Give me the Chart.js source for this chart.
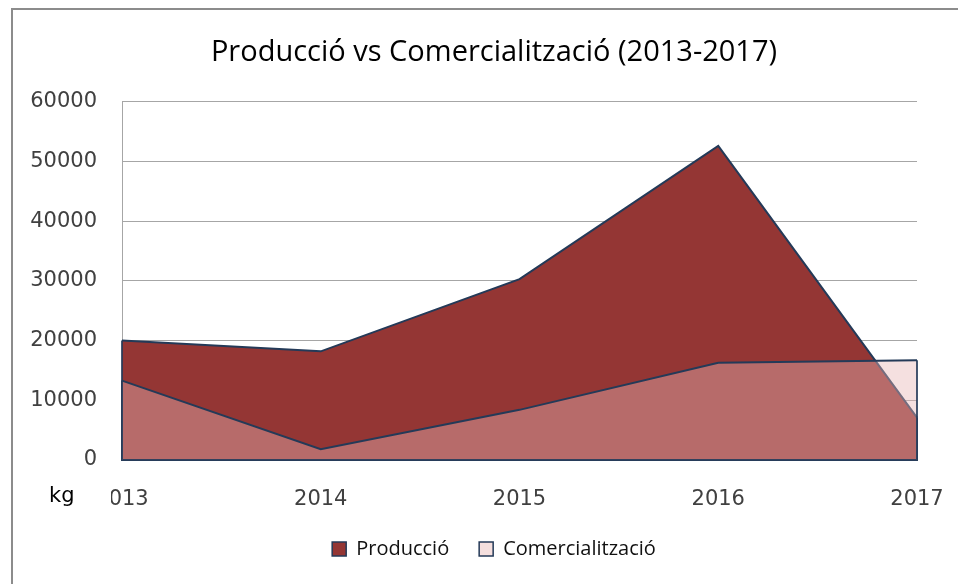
<!DOCTYPE html>
<html>
<head>
<meta charset="utf-8">
<script src="https://cdn.jsdelivr.net/npm/chart.js@4/dist/chart.umd.min.js"></script>
<style>
  html, body { margin: 0; padding: 0; background: #fff; overflow: hidden; }
  body { width: 958px; height: 584px; position: relative; }
  .frame { position: absolute; left: 11px; top: 8px; width: 1000px; height: 620px; border: 2px solid #8c8c8c; }
  .wrap { position: absolute; left: 0; top: 0; width: 958px; height: 584px; }
</style>
</head>
<body>
<div class="frame"></div>
<div class="wrap"><canvas id="chart" width="958" height="584"></canvas></div>
<script>
// Data
const years = ['2013', '2014', '2015', '2016', '2017'];
const produccio = [20000, 18200, 30300, 52600, 7100];
const comercialitzacio = [13300, 1800, 8400, 16300, 16700];
const yTicks = [0, 10000, 20000, 30000, 40000, 50000, 60000];

const navy = '#243a58';
const tickFont = '21px "DejaVu Sans"';

// y labels are mirrored so they are not clipped to the narrow axis box;
// shift them back out by the widest label
const meas = document.createElement('canvas').getContext('2d');
meas.font = tickFont;
const widest = Math.max(...yTicks.map(v => meas.measureText(String(v)).width));

// closes each area with the side and bottom edges, like the original
const areaOutline = {
  id: 'areaOutline',
  afterDatasetDraw(chart, args) {
    const pts = args.meta.data;
    if (!pts.length) return;
    const ctx = chart.ctx;
    const base = chart.scales.y.getPixelForValue(0);
    const first = pts[0], last = pts[pts.length - 1];
    ctx.save();
    ctx.strokeStyle = navy;
    ctx.globalAlpha = 0.85;
    ctx.lineWidth = 2;
    ctx.beginPath();
    ctx.moveTo(first.x, first.y);
    ctx.lineTo(first.x, base);
    ctx.lineTo(last.x, base);
    ctx.lineTo(last.x, last.y);
    ctx.stroke();
    ctx.restore();
  }
};

// "kg" unit label sitting over the first year label
const unitLabel = {
  id: 'unitLabel',
  afterDraw(chart) {
    const ctx = chart.ctx;
    ctx.save();
    ctx.fillStyle = '#fff';
    ctx.fillRect(14, 478, 97, 38);
    ctx.fillStyle = '#000';
    ctx.font = tickFont;
    ctx.textAlign = 'left';
    ctx.textBaseline = 'middle';
    ctx.fillText('kg', 49, 497);
    ctx.restore();
  }
};

const ctx = document.getElementById('chart').getContext('2d');
const chart = new Chart(ctx, {
  type: 'line',
  data: {
    labels: years,
    datasets: [
      {
        label: 'Producció',
        data: produccio,
        fill: 'origin',
        backgroundColor: '#943634',
        borderColor: navy,
        borderWidth: 2,
        pointRadius: 0,
        tension: 0,
        order: 2
      },
      {
        label: 'Comercialització',
        data: comercialitzacio,
        fill: 'origin',
        backgroundColor: 'rgba(230, 182, 181, 0.42)',
        borderColor: navy,
        borderWidth: 2,
        pointRadius: 0,
        tension: 0,
        order: 1
      }
    ]
  },
  options: {
    responsive: false,
    animation: false,
    layout: { padding: { left: 71, right: 41, top: 0, bottom: 15 } },
    plugins: {
      title: {
        display: true,
        text: 'Producció vs Comercialització (2013-2017)',
        color: '#000',
        font: { family: '"Open Sans"', size: 29, weight: 'normal' },
        padding: { top: 35, bottom: 32 }
      },
      legend: {
        position: 'bottom',
        labels: {
          color: '#111',
          font: { family: '"Open Sans"', size: 20 },
          boxWidth: 14,
          boxHeight: 14,
          padding: 30,
          generateLabels(chart) {
            return chart.data.datasets.map((ds, i) => ({
              text: ds.label,
              fillStyle: i === 0 ? '#943634' : '#f5dfde',
              strokeStyle: navy,
              lineWidth: 1.5,
              datasetIndex: i,
              fontColor: '#111'
            }));
          }
        }
      },
      tooltip: { enabled: false }
    },
    scales: {
      x: {
        offset: false,
        // invisible tick marks push the labels down without widening the side padding
        grid: { display: true, color: 'rgba(0,0,0,0)', drawTicks: true, tickLength: 27 },
        border: { display: false },
        ticks: {
          color: '#404040',
          font: { family: '"DejaVu Sans"', size: 21 },
          padding: 0,
          maxRotation: 0
        },
        afterFit(scale) { scale.height = 49; }
      },
      y: {
        min: 0,
        max: 60000,
        afterBuildTicks(scale) { scale.ticks = yTicks.map(v => ({ value: v })); },
        grid: { color: '#a6a6a6', lineWidth: 1, drawTicks: false },
        border: { display: true, color: '#a6a6a6' },
        ticks: {
          color: '#404040',
          font: { family: '"DejaVu Sans"', size: 21 },
          mirror: true,
          crossAlign: 'far',
          padding: -(25 + widest),
          callback: v => String(v)
        },
        afterFit(scale) { scale.width = 51; }
      }
    }
  },
  plugins: [areaOutline, unitLabel]
});
</script>
</body>
</html>
